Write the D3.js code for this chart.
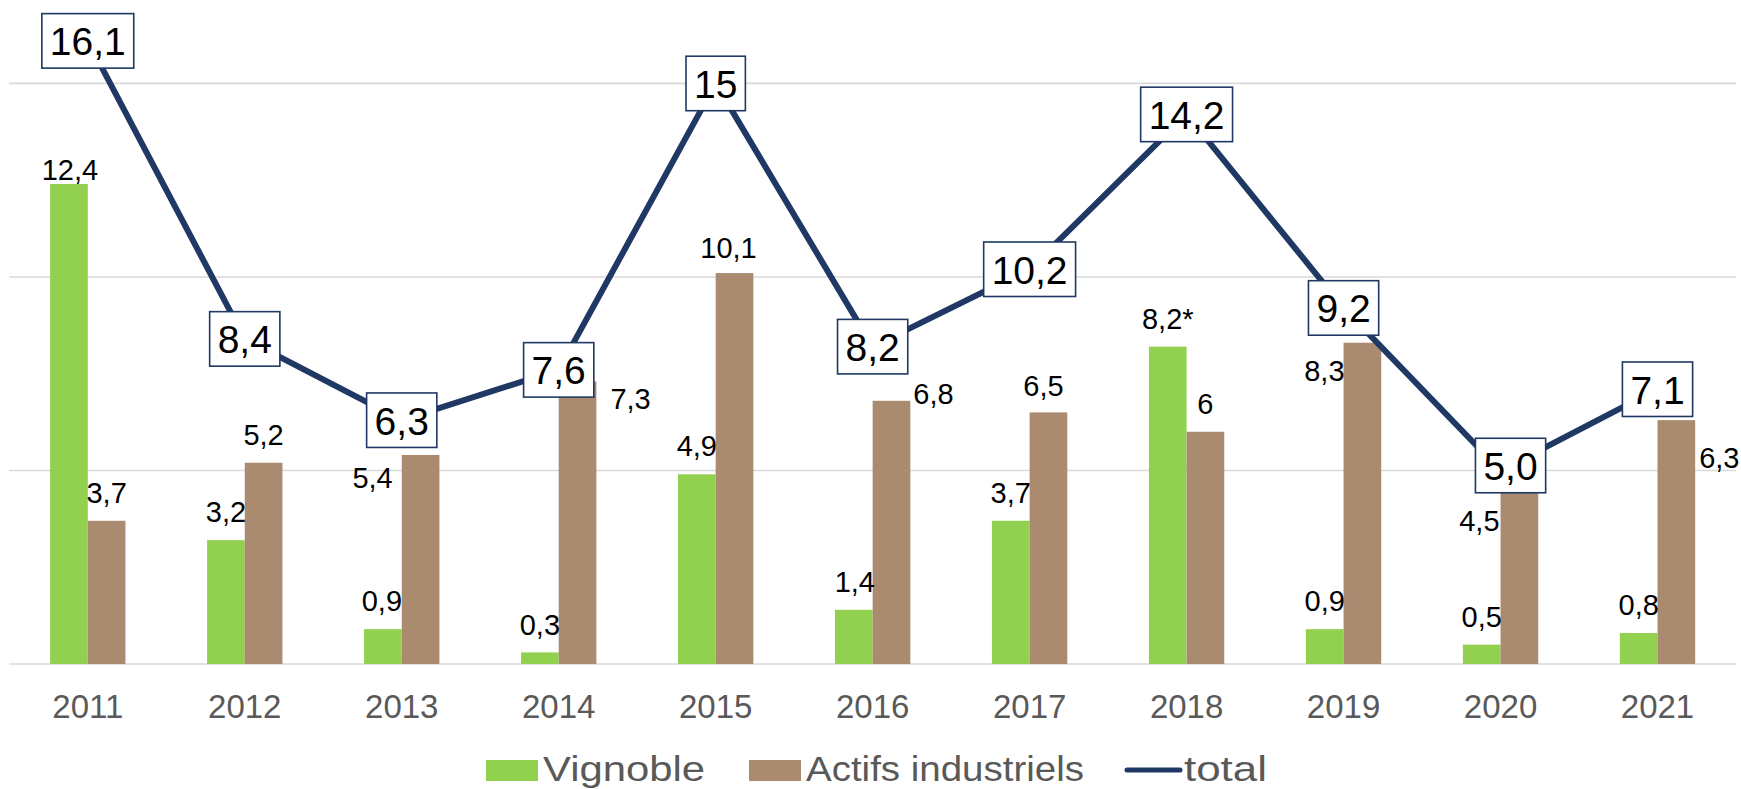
<!DOCTYPE html>
<html>
<head>
<meta charset="utf-8">
<script src="https://cdn.jsdelivr.net/npm/d3@7"></script>
<style>
  html, body { margin: 0; padding: 0; background: #ffffff; }
  svg { display: block; }
  text { font-family: 'Century Gothic', 'Liberation Sans', Arial, sans-serif; }
</style>
</head>
<body>
<svg id="chart" width="1741" height="789"></svg>
<script>
// ---------- data ----------
const years = ["2011","2012","2013","2014","2015","2016","2017","2018","2019","2020","2021"];
const seriesNames = ["Vignoble", "Actifs industriels", "total"];
const vignoble = [12.4, 3.2, 0.9, 0.3, 4.9, 1.4, 3.7, 8.2, 0.9, 0.5, 0.8];
const actifs   = [3.7, 5.2, 5.4, 7.3, 10.1, 6.8, 6.5, 6, 8.3, 4.5, 6.3];
const total    = [16.1, 8.4, 6.3, 7.6, 15, 8.2, 10.2, 14.2, 9.2, 5.0, 7.1];
const vignobleLabels = ["12,4","3,2","0,9","0,3","4,9","1,4","3,7","8,2*","0,9","0,5","0,8"];
const actifsLabels   = ["3,7","5,2","5,4","7,3","10,1","6,8","6,5","6","8,3","4,5","6,3"];
const totalLabels    = ["16,1","8,4","6,3","7,6","15","8,2","10,2","14,2","9,2","5,0","7,1"];
const yTicks = [0, 5, 10, 15];

// ---------- label placement (style: [dx, baseline offset from bar top] in px) ----------
const vignobleLabelPos = [[1,-4],[0,-18],[-1,-18],[0,-17],[0,-18],[1,-18],[0,-18],[0,-18],[0,-18],[0,-18],[0,-18]];
const actifsLabelPos   = [[0,-18],[0,-18],[-48,33],[53,28],[-6,-15],[42,3],[-5,-16],[0,-18],[-38,38],[-40,41],[43,48]];
const totalLabelPos    = [[0,0],[0,0],[0,0],[0,0],[0,0],[0,0],[0,0],[0,0],[0,0],[10,-5],[0,0]];

// ---------- styles ----------
const colGreen = "#92D050";
const colBrown = "#AA8B6F";
const colLine  = "#1F3864";
const colGrid  = "#D9D9D9";
const colAxisText = "#595959";

const svg = d3.select("#chart");

const x0 = d3.scaleBand().domain(years).range([9.3, 1736]).paddingInner(0.52).paddingOuter(0.26);
const x1 = d3.scaleBand().domain([0, 1]).range([0, x0.bandwidth()]);
const y  = d3.scaleLinear().domain([0, 15]).range([664, 83.4]);
const cx = d => x0(d) + x0.bandwidth() / 2;

// gridlines
svg.append("g").selectAll("line").data(yTicks).join("line")
  .attr("x1", 9.3).attr("x2", 1736)
  .attr("y1", d => y(d)).attr("y2", d => y(d))
  .attr("stroke", colGrid).attr("stroke-width", 1.6);

// x-axis labels
const xAxis = d3.axisBottom(x0).tickSize(0).tickPadding(0);
const gx = svg.append("g").attr("transform", "translate(0,664)").call(xAxis);
gx.select(".domain").remove();
gx.selectAll("text")
  .attr("y", 53.7).attr("dy", null)
  .attr("fill", colAxisText)
  .style("font-size", "33px")
  .style("font-family", "'Century Gothic', 'Liberation Sans', Arial, sans-serif");

// bars
const bars = svg.append("g");
bars.selectAll("rect.v").data(years).join("rect").attr("class", "v")
  .attr("x", (d) => x0(d) + x1(0)).attr("width", x1.bandwidth())
  .attr("y", (d, i) => y(vignoble[i])).attr("height", (d, i) => y(0) - y(vignoble[i]))
  .attr("fill", colGreen);
bars.selectAll("rect.a").data(years).join("rect").attr("class", "a")
  .attr("x", (d) => x0(d) + x1(1)).attr("width", x1.bandwidth())
  .attr("y", (d, i) => y(actifs[i])).attr("height", (d, i) => y(0) - y(actifs[i]))
  .attr("fill", colBrown);

// bar labels
const lbl = svg.append("g").style("font-size", "29px").attr("fill", "#000").attr("text-anchor", "middle");
lbl.selectAll("text.v").data(years).join("text").attr("class", "v")
  .attr("x", (d, i) => x0(d) + x1(0) + x1.bandwidth() / 2 + vignobleLabelPos[i][0])
  .attr("y", (d, i) => y(vignoble[i]) + vignobleLabelPos[i][1])
  .text((d, i) => vignobleLabels[i]);
lbl.selectAll("text.a").data(years).join("text").attr("class", "a")
  .attr("x", (d, i) => x0(d) + x1(1) + x1.bandwidth() / 2 + actifsLabelPos[i][0])
  .attr("y", (d, i) => y(actifs[i]) + actifsLabelPos[i][1])
  .text((d, i) => actifsLabels[i]);

// total line
const line = d3.line().x((d, i) => cx(years[i])).y(d => y(d));
svg.append("path").datum(total)
  .attr("d", line).attr("fill", "none")
  .attr("stroke", colLine).attr("stroke-width", 6)
  .attr("stroke-linejoin", "round").attr("stroke-linecap", "round");

// total boxed labels
const tg = svg.append("g");
years.forEach((yr, i) => {
  const px = cx(yr) + totalLabelPos[i][0];
  const py = y(total[i]) + totalLabelPos[i][1];
  const g = tg.append("g");
  const rect = g.append("rect");
  const t = g.append("text")
    .attr("x", px).attr("y", py + 14.5)
    .attr("text-anchor", "middle")
    .style("font-size", "39px").attr("fill", "#000")
    .text(totalLabels[i]);
  const w = t.node().getComputedTextLength() + 16;
  rect.attr("x", px - w / 2).attr("y", py - 27.2)
    .attr("width", w).attr("height", 54.5)
    .attr("fill", "#fff").attr("stroke", colLine).attr("stroke-width", 1.6);
});

// legend
const lg = svg.append("g");
lg.append("rect").attr("x", 486).attr("y", 760).attr("width", 52).attr("height", 21).attr("fill", colGreen);
lg.append("text").attr("x", 543).attr("y", 780.7).text(seriesNames[0])
  .attr("fill", colAxisText).style("font-size", "34.5px")
  .attr("textLength", 162).attr("lengthAdjust", "spacingAndGlyphs");
lg.append("rect").attr("x", 749).attr("y", 760).attr("width", 52).attr("height", 21).attr("fill", colBrown);
lg.append("text").attr("x", 806).attr("y", 780.7).text(seriesNames[1])
  .attr("fill", colAxisText).style("font-size", "34.5px")
  .attr("textLength", 278).attr("lengthAdjust", "spacingAndGlyphs");
lg.append("line").attr("x1", 1127).attr("x2", 1180).attr("y1", 770).attr("y2", 770)
  .attr("stroke", colLine).attr("stroke-width", 5).attr("stroke-linecap", "round");
lg.append("text").attr("x", 1184).attr("y", 780.7).text(seriesNames[2])
  .attr("fill", colAxisText).style("font-size", "34.5px")
  .attr("textLength", 83).attr("lengthAdjust", "spacingAndGlyphs");
</script>
</body>
</html>
